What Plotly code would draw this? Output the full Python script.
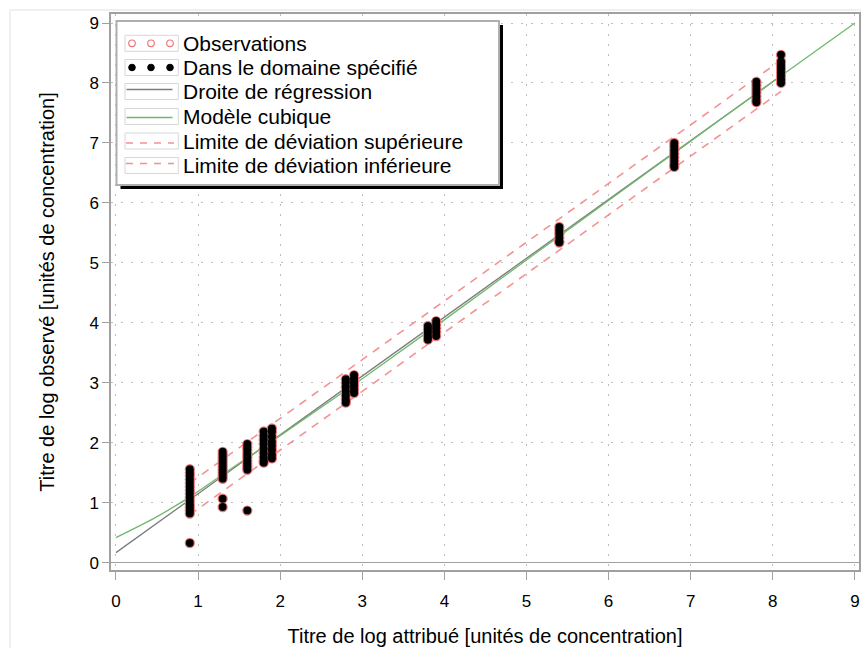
import plotly.graph_objects as go

# ---------------- data ----------------
assigned_levels = [0.9, 1.3, 1.6, 1.8, 1.9, 2.8, 2.9, 3.8, 3.9, 5.4, 6.8, 7.8, 8.1]
observed_by_level = [
    [1.56, 1.50, 1.45, 1.39, 1.33, 1.27, 1.21, 1.15, 1.09, 1.03, 0.97, 0.92, 0.87, 0.82, 0.33],
    [1.85, 1.80, 1.75, 1.70, 1.65, 1.60, 1.55, 1.50, 1.45, 1.40, 1.07, 0.93],
    [1.98, 1.93, 1.88, 1.82, 1.76, 1.70, 1.65, 1.60, 1.55, 0.87],
    [2.19, 2.12, 2.05, 1.98, 1.90, 1.83, 1.76, 1.70, 1.67],
    [2.24, 2.18, 2.10, 2.02, 1.95, 1.88, 1.80, 1.74],
    [3.06, 3.00, 2.93, 2.86, 2.79, 2.72, 2.67],
    [3.13, 3.07, 3.01, 2.95, 2.89, 2.83],
    [3.95, 3.89, 3.83, 3.77, 3.72],
    [4.03, 3.97, 3.91, 3.85, 3.78],
    [5.60, 5.54, 5.48, 5.42, 5.36, 5.34],
    [7.00, 6.94, 6.88, 6.82, 6.76, 6.70, 6.64, 6.60],
    [8.02, 7.96, 7.90, 7.84, 7.78, 7.72, 7.68],
    [8.47, 8.36, 8.30, 8.24, 8.18, 8.12, 8.06, 8.00],
]

regression_x = [0.0, 8.1]
regression_y = [0.17, 8.12]

cubic_x = [0.0, 0.5, 0.9, 1.5, 2.0, 3.0, 4.0, 5.0, 6.0, 7.0, 8.0, 9.0]
cubic_y = [0.42, 0.77, 1.10, 1.66, 2.12, 3.07, 4.05, 5.05, 6.04, 7.03, 8.02, 9.00]

upper_x = [0.9, 8.1]
upper_y = [1.33, 8.38]
lower_x = [0.9, 8.1]
lower_y = [0.80, 7.86]

tick_vals = [0, 1, 2, 3, 4, 5, 6, 7, 8, 9]
tick_text = ["0", "1", "2", "3", "4", "5", "6", "7", "8", "9"]

legend_labels = [
    "Observations",
    "Dans le domaine spécifié",
    "Droite de régression",
    "Modèle cubique",
    "Limite de déviation supérieure",
    "Limite de déviation inférieure",
]

x_title = "Titre de log attribué [unités de concentration]"
y_title = "Titre de log observé [unités de concentration]"

# ---------------- styling ----------------
FONT = "Liberation Sans, Arial, sans-serif"
RED = "rgb(240,120,120)"
DASH_RED = "rgba(240,110,110,0.75)"
GREY_LINE = "rgb(125,125,125)"
GREEN_LINE = "rgb(110,185,110)"
FRAME = "rgb(160,160,160)"

W, H = 861, 648
ML, MR, MT, MB = 111, 2, 14, 78
PW = W - ML - MR
PH = H - MT - MB


def px(xp):
    return (xp - ML) / PW


def py(yp):
    return (H - MB - yp) / PH


obs_x, obs_y = [], []
for lvl, ys in zip(assigned_levels, observed_by_level):
    obs_x += [lvl] * len(ys)
    obs_y += ys

fig = go.Figure()

fig.add_trace(go.Scatter(
    x=regression_x, y=regression_y, mode="lines",
    line=dict(color=GREY_LINE, width=1.3), name=legend_labels[2], showlegend=False))
fig.add_trace(go.Scatter(
    x=cubic_x, y=cubic_y, mode="lines", line_shape="spline",
    line=dict(color=GREEN_LINE, width=1.3), name=legend_labels[3], showlegend=False))
fig.add_trace(go.Scatter(
    x=upper_x, y=upper_y, mode="lines",
    line=dict(color=DASH_RED, width=1.6, dash="8px,7px"), name=legend_labels[4], showlegend=False))
fig.add_trace(go.Scatter(
    x=lower_x, y=lower_y, mode="lines",
    line=dict(color=DASH_RED, width=1.6, dash="8px,7px"), name=legend_labels[5], showlegend=False))
fig.add_trace(go.Scatter(
    x=obs_x, y=obs_y, mode="markers",
    marker=dict(symbol="circle-open", size=9, color=RED, line=dict(width=1.3, color=RED)),
    name=legend_labels[0], showlegend=False))
fig.add_trace(go.Scatter(
    x=obs_x, y=obs_y, mode="markers",
    marker=dict(symbol="circle", size=8, color="black", line=dict(width=0)),
    name=legend_labels[1], showlegend=False))

shapes = []
# outer faint figure border
shapes.append(dict(type="rect", xref="paper", yref="paper",
                   x0=px(10), y0=py(10), x1=px(W + 20), y1=py(H + 20),
                   line=dict(color="rgb(225,225,225)", width=1), layer="below"))

# custom legend box with shadow
LX0, LY0, LX1, LY1 = 116.5, 21, 499, 185
shapes.append(dict(type="rect", xref="paper", yref="paper",
                   x0=px(LX0 + 4), y0=py(LY0 + 4), x1=px(LX1 + 4), y1=py(LY1 + 4),
                   fillcolor="black", line=dict(width=0)))
shapes.append(dict(type="rect", xref="paper", yref="paper",
                   x0=px(LX0), y0=py(LY0), x1=px(LX1), y1=py(LY1),
                   fillcolor="white", line=dict(color="rgb(175,175,175)", width=2)))

row_y = [43.3, 67.5, 91.5, 116.5, 141, 165.5]
sym_x0, sym_x1 = 125, 178.3
dot_x = [132, 151, 170]
for ry in row_y:
    shapes.append(dict(type="rect", xref="paper", yref="paper",
                       x0=px(sym_x0), y0=py(ry - 8), x1=px(sym_x1), y1=py(ry + 8),
                       line=dict(color="rgb(215,215,215)", width=1)))

r = 3.3
for dx in dot_x:
    shapes.append(dict(type="circle", xref="paper", yref="paper",
                       x0=px(dx - r), y0=py(row_y[0] - r), x1=px(dx + r), y1=py(row_y[0] + r),
                       line=dict(color=RED, width=1.2)))
    shapes.append(dict(type="circle", xref="paper", yref="paper",
                       x0=px(dx - r), y0=py(row_y[1] - r), x1=px(dx + r), y1=py(row_y[1] + r),
                       fillcolor="black", line=dict(color="black", width=1)))

shapes.append(dict(type="line", xref="paper", yref="paper",
                   x0=px(126.5), y0=py(row_y[2] - 2), x1=px(172.5), y1=py(row_y[2] - 2),
                   line=dict(color=GREY_LINE, width=1.3)))
shapes.append(dict(type="line", xref="paper", yref="paper",
                   x0=px(126.5), y0=py(row_y[3] + 1), x1=px(172.5), y1=py(row_y[3] + 1),
                   line=dict(color=GREEN_LINE, width=1.3)))
for ry in (row_y[4] + 2, row_y[5] - 2):
    shapes.append(dict(type="line", xref="paper", yref="paper",
                       x0=px(126), y0=py(ry), x1=px(174), y1=py(ry),
                       line=dict(color=DASH_RED, width=1.6, dash="7px,7px")))

annotations = []
for lab, ry in zip(legend_labels, row_y):
    annotations.append(dict(xref="paper", yref="paper", x=px(181), y=py(ry),
                            text=lab, showarrow=False, xanchor="left", yanchor="middle",
                            font=dict(family=FONT, size=21, color="black")))

axis_common = dict(
    automargin=False,
    showgrid=True, gridcolor="rgb(190,190,190)", griddash="2px,8px", gridwidth=1,
    showline=True, linecolor=FRAME, linewidth=1.5, mirror=True,
    ticks="outside", tickcolor=FRAME, tickwidth=1.2,
    tickfont=dict(family=FONT, size=17, color="black"),
    tickvals=tick_vals, ticktext=tick_text,
)

fig.update_layout(
    width=W, height=H,
    margin=dict(l=ML, r=MR, t=MT, b=MB, pad=0),
    paper_bgcolor="white", plot_bgcolor="white",
    showlegend=False,
    font=dict(family=FONT, color="black"),
    xaxis=dict(range=[-0.06, 9.05], ticklen=8, zeroline=False, ticklabelstandoff=7,
               title=dict(text=x_title, font=dict(family=FONT, size=20), standoff=19),
               **axis_common),
    yaxis=dict(range=[-0.12, 9.15], ticklen=7, zeroline=True,
               zerolinecolor=FRAME, zerolinewidth=1.3,
               title=dict(text=y_title, font=dict(family=FONT, size=20), standoff=29),
               **axis_common),
    shapes=shapes,
    annotations=annotations,
)

fig.write_html("out.html",
               config={"displayModeBar": False},
               post_script="document.body.style.margin='0px';document.body.style.padding='0px';")
